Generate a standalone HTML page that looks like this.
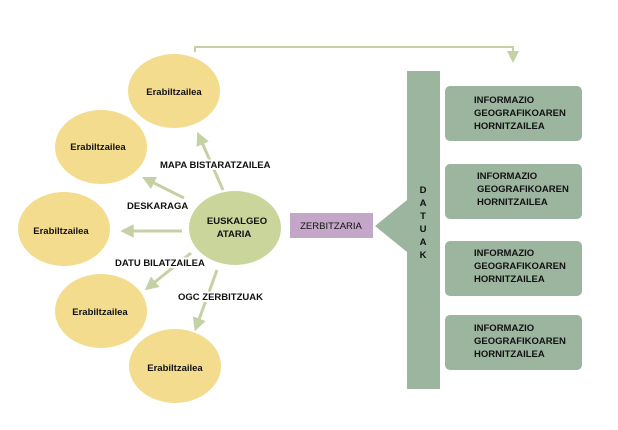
<!DOCTYPE html>
<html><head><style>
body{margin:0;background:#fff}
text{font-family:"Liberation Sans",sans-serif;font-size:9.5px;font-weight:bold;fill:#111}
.lb{stroke:#fff;stroke-width:4px;paint-order:stroke}
</style></head><body>
<svg width="618" height="425" xmlns="http://www.w3.org/2000/svg">
<defs><marker id="a" viewBox="0 0 10 10" refX="5" refY="5" markerWidth="4.5" markerHeight="4.5" orient="auto"><path d="M0,0L10,5L0,10z" fill="#c5d0a5"/></marker></defs>
<polyline points="195,52 195,47 513,47 513,52" fill="none" stroke="#c5d0a5" stroke-width="2"/>
<path d="M507,51 L519,51 L513,63z" fill="#c5d0a5"/>
<g fill="#f3dc8e">
<ellipse cx="174" cy="91" rx="46" ry="37"/>
<ellipse cx="101" cy="147" rx="46" ry="37"/>
<ellipse cx="64" cy="229" rx="46" ry="37"/>
<ellipse cx="101" cy="311" rx="46" ry="37"/>
<ellipse cx="175" cy="366" rx="46" ry="37"/>
</g>
<ellipse cx="235" cy="228" rx="46" ry="37" fill="#c9d59a"/>
<g stroke="#c5d0a5" stroke-width="3" marker-end="url(#a)">
<line x1="223" y1="190" x2="200" y2="138"/>
<line x1="184" y1="198" x2="148" y2="180"/>
<line x1="182" y1="231" x2="127" y2="231"/>
<line x1="191" y1="253" x2="150" y2="286"/>
<line x1="217" y1="270" x2="197" y2="325"/>
</g>
<rect x="290" y="213" width="83" height="25" fill="#c3a6c8"/>
<rect x="407" y="71" width="33" height="318" fill="#9cb59f"/>
<path d="M375,226 L407,200 L407,252z" fill="#9cb59f"/>
<g fill="#9cb59f">
<rect x="445" y="86" width="137" height="55" rx="5"/>
<rect x="445" y="164" width="137" height="55" rx="5"/>
<rect x="445" y="241" width="137" height="55" rx="5"/>
<rect x="445" y="315" width="137" height="55" rx="5"/>
</g>
<text x="174" y="95" text-anchor="middle">Erabiltzailea</text>
<text x="98" y="150" text-anchor="middle">Erabiltzailea</text>
<text x="61" y="234" text-anchor="middle">Erabiltzailea</text>
<text x="100" y="315" text-anchor="middle">Erabiltzailea</text>
<text x="175" y="371" text-anchor="middle">Erabiltzailea</text>
<text x="237" y="224" text-anchor="middle">EUSKALGEO</text>
<text x="234" y="237" text-anchor="middle">ATARIA</text>
<text class="lb" x="160" y="168">MAPA BISTARATZAILEA</text>
<text class="lb" x="127" y="209">DESKARAGA</text>
<text class="lb" x="115" y="266">DATU BILATZAILEA</text>
<text class="lb" x="178" y="300">OGC ZERBITZUAK</text>
<text x="331" y="229" text-anchor="middle" style="font-weight:normal">ZERBITZARIA</text>
<g text-anchor="middle"><text x="423" y="193">D</text><text x="423" y="206">A</text><text x="423" y="219">T</text><text x="423" y="232">U</text><text x="423" y="245">A</text><text x="423" y="258">K</text></g>
<g>
<text x="474" y="103">INFORMAZIO</text><text x="474" y="116">GEOGRAFIKOAREN</text><text x="474" y="129">HORNITZAILEA</text>
<text x="477" y="179">INFORMAZIO</text><text x="477" y="192">GEOGRAFIKOAREN</text><text x="477" y="205">HORNITZAILEA</text>
<text x="474" y="256">INFORMAZIO</text><text x="474" y="269">GEOGRAFIKOAREN</text><text x="474" y="282">HORNITZAILEA</text>
<text x="474" y="331">INFORMAZIO</text><text x="474" y="344">GEOGRAFIKOAREN</text><text x="474" y="357">HORNITZAILEA</text>
</g>
</svg>
</body></html>
